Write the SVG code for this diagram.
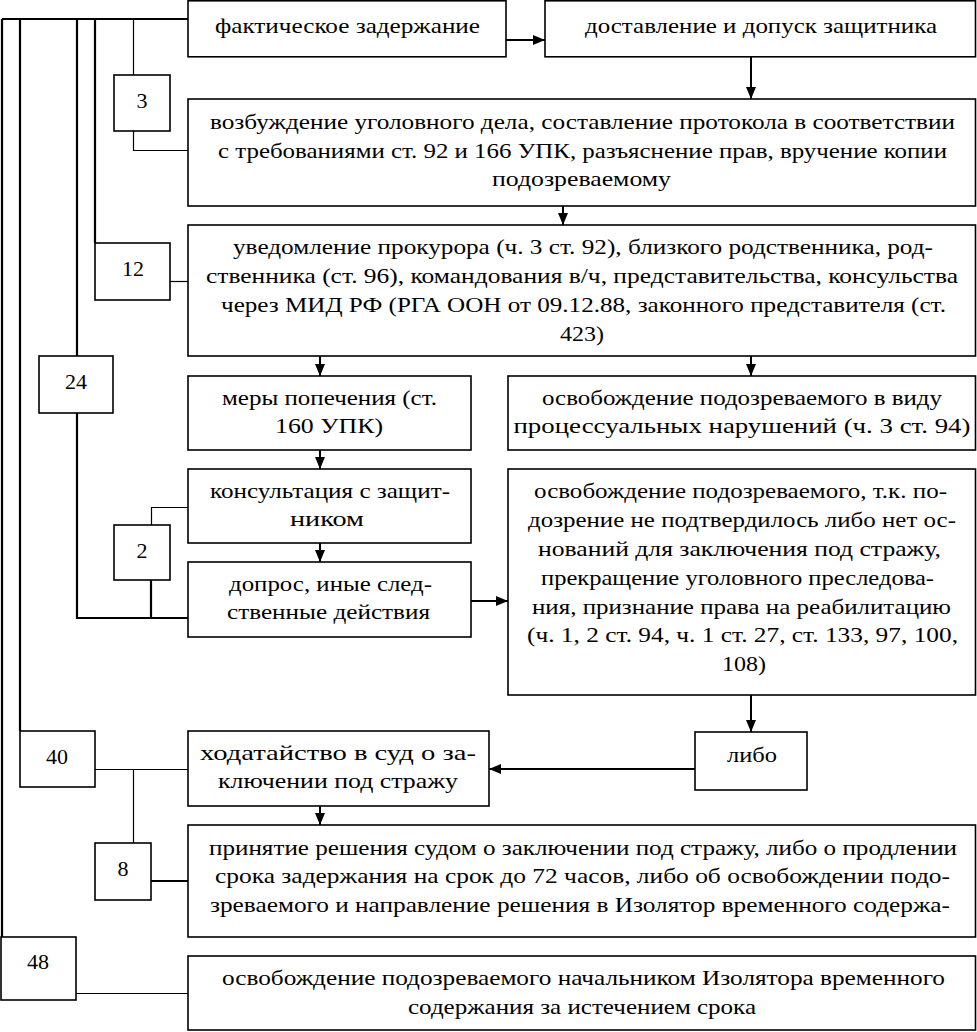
<svg xmlns="http://www.w3.org/2000/svg" width="977" height="1032" viewBox="0 0 977 1032">
<defs>
<marker id="ah" markerUnits="userSpaceOnUse" markerWidth="12" markerHeight="12" viewBox="0 0 12 12" refX="12" refY="6" orient="auto">
<path d="M0,1 L12,6 L0,11 Z" fill="#000"/>
</marker>
</defs>
<style>
.b{fill:#fff;stroke:#000;stroke-width:1.6}
.t{font-family:"Liberation Serif","Times New Roman",Tinos,"Noto Serif","DejaVu Serif",serif;font-size:22px;fill:#000;text-anchor:middle}
.th{fill:none;stroke:#000;stroke-width:2.2}
.tn{fill:none;stroke:#000;stroke-width:1.2}
.ar{fill:none;stroke:#000;stroke-width:2;marker-end:url(#ah)}
</style>
<rect width="977" height="1032" fill="#fff"/>
<g id="connectors">
<path class="th" d="M2,19 H188 M2,19 V937 M20,19 V731 M77,19 V356 M95,19 V243"/>
<path class="tn" d="M133.5,19 V75 M133.5,131 V150.5 H188"/>
<path class="tn" d="M170,281.5 H188"/>
<path class="th" d="M77,413 V618 H188"/>
<path class="tn" d="M188,507.5 H151.5 V525"/>
<path class="th" d="M151,580 V618"/>
<path class="tn" d="M95,769.5 H188 M133.5,769.5 V843"/>
<path class="th" d="M151,881 H188"/>
<path class="tn" d="M76,993.5 H188"/>
<path class="ar" d="M506,40 H545"/>
<path class="ar" d="M751,57 V99"/>
<path class="ar" d="M563,206 V225"/>
<path class="ar" d="M320,356 V376"/>
<path class="ar" d="M751,356 V376"/>
<path class="ar" d="M320,450 V469"/>
<path class="ar" d="M320,543 V562"/>
<path class="ar" d="M470,601 H508"/>
<path class="ar" d="M751,695 V732"/>
<path class="ar" d="M695,769 H489"/>
<path class="ar" d="M320,806 V825"/>
</g>
<g id="n-zaderzhanie"><rect class="b" x="188" y="0.8" width="318" height="56"/><text class="t" x="347.5" y="33" textLength="265" lengthAdjust="spacingAndGlyphs">фактическое задержание</text></g>
<g id="n-dostavlenie"><rect class="b" x="545" y="0.8" width="430.5" height="56"/><text class="t" x="761" y="33" textLength="352" lengthAdjust="spacingAndGlyphs">доставление и допуск защитника</text></g>
<g id="n-vozbuzhdenie"><rect class="b" x="188" y="99" width="787.5" height="107"/>
<text class="t" x="582.5" y="129" textLength="745" lengthAdjust="spacingAndGlyphs">возбуждение уголовного дела, составление протокола в соответствии</text>
<text class="t" x="582.5" y="158" textLength="729" lengthAdjust="spacingAndGlyphs">с требованиями ст. 92 и 166 УПК, разъяснение прав, вручение копии</text>
<text class="t" x="581.5" y="186" textLength="179" lengthAdjust="spacingAndGlyphs">подозреваемому</text></g>
<g id="n-uvedomlenie"><rect class="b" x="188" y="225" width="787.5" height="131"/>
<text class="t" x="583" y="254" textLength="700" lengthAdjust="spacingAndGlyphs">уведомление прокурора (ч. 3 ст. 92), близкого родственника, род-</text>
<text class="t" x="582" y="283" textLength="752" lengthAdjust="spacingAndGlyphs">ственника (ст. 96), командования в/ч, представительства, консульства</text>
<text class="t" x="583.5" y="312" textLength="725" lengthAdjust="spacingAndGlyphs">через МИД РФ (РГА ООН от 09.12.88, законного представителя (ст.</text>
<text class="t" x="582" y="341" textLength="44" lengthAdjust="spacingAndGlyphs">423)</text></g>
<g id="n-mery"><rect class="b" x="188" y="376" width="283" height="74"/>
<text class="t" x="329.5" y="405" textLength="215" lengthAdjust="spacingAndGlyphs">меры попечения (ст.</text>
<text class="t" x="329" y="433" textLength="108" lengthAdjust="spacingAndGlyphs">160 УПК)</text></g>
<g id="n-osv-narush"><rect class="b" x="508" y="376" width="467.5" height="74"/>
<text class="t" x="742" y="405" textLength="400" lengthAdjust="spacingAndGlyphs">освобождение подозреваемого в виду</text>
<text class="t" x="742" y="433" textLength="457" lengthAdjust="spacingAndGlyphs">процессуальных нарушений (ч. 3 ст. 94)</text></g>
<g id="n-konsultaciya"><rect class="b" x="188" y="469" width="283" height="74"/>
<text class="t" x="330" y="498" textLength="240" lengthAdjust="spacingAndGlyphs">консультация с защит-</text>
<text class="t" x="327" y="526" textLength="74" lengthAdjust="spacingAndGlyphs">ником</text></g>
<g id="n-dopros"><rect class="b" x="188" y="562" width="283" height="75"/>
<text class="t" x="330.5" y="591" textLength="203" lengthAdjust="spacingAndGlyphs">допрос, иные след-</text>
<text class="t" x="328.5" y="619" textLength="203" lengthAdjust="spacingAndGlyphs">ственные действия</text></g>
<g id="n-osv-tk"><rect class="b" x="508" y="469" width="467.5" height="226"/>
<text class="t" x="740.5" y="498" textLength="413" lengthAdjust="spacingAndGlyphs">освобождение подозреваемого, т.к. по-</text>
<text class="t" x="742" y="527" textLength="428" lengthAdjust="spacingAndGlyphs">дозрение не подтвердилось либо нет ос-</text>
<text class="t" x="739.5" y="556" textLength="403" lengthAdjust="spacingAndGlyphs">нований для заключения под стражу,</text>
<text class="t" x="737.5" y="585" textLength="393" lengthAdjust="spacingAndGlyphs">прекращение уголовного преследова-</text>
<text class="t" x="741.5" y="614" textLength="419" lengthAdjust="spacingAndGlyphs">ния, признание права на реабилитацию</text>
<text class="t" x="742.5" y="642" textLength="431" lengthAdjust="spacingAndGlyphs">(ч. 1, 2 ст. 94, ч. 1 ст. 27, ст. 133, 97, 100,</text>
<text class="t" x="744" y="671" textLength="44" lengthAdjust="spacingAndGlyphs">108)</text></g>
<g id="n-libo"><rect class="b" x="695" y="732" width="112" height="58"/><text class="t" x="752" y="762" textLength="50" lengthAdjust="spacingAndGlyphs">либо</text></g>
<g id="n-hodataystvo"><rect class="b" x="188" y="731" width="301" height="75"/>
<text class="t" x="338" y="760" textLength="276" lengthAdjust="spacingAndGlyphs">ходатайство в суд о за-</text>
<text class="t" x="338" y="788" textLength="240" lengthAdjust="spacingAndGlyphs">ключении под стражу</text></g>
<g id="n-prinyatie"><rect class="b" x="188" y="825" width="787.5" height="112"/>
<text class="t" x="583" y="855" textLength="748" lengthAdjust="spacingAndGlyphs">принятие решения судом о заключении под стражу, либо о продлении</text>
<text class="t" x="582.5" y="883" textLength="735" lengthAdjust="spacingAndGlyphs">срока задержания на срок до 72 часов, либо об освобождении подо-</text>
<text class="t" x="580" y="912" textLength="740" lengthAdjust="spacingAndGlyphs">зреваемого и направление решения в Изолятор временного содержа-</text></g>
<g id="n-osv-nachalnik"><rect class="b" x="188" y="956" width="787.5" height="74"/>
<text class="t" x="583.5" y="985" textLength="723" lengthAdjust="spacingAndGlyphs">освобождение подозреваемого начальником Изолятора временного</text>
<text class="t" x="582" y="1014" textLength="348" lengthAdjust="spacingAndGlyphs">содержания за истечением срока</text></g>
<g id="n-3"><rect class="b" x="114" y="75" width="56" height="56"/><text class="t" x="142" y="108">3</text></g>
<g id="n-12"><rect class="b" x="95" y="243" width="75" height="57"/><text class="t" x="133" y="276">12</text></g>
<g id="n-24"><rect class="b" x="39" y="356" width="74" height="57"/><text class="t" x="76" y="389">24</text></g>
<g id="n-2"><rect class="b" x="114" y="525" width="56" height="55"/><text class="t" x="142" y="558">2</text></g>
<g id="n-40"><rect class="b" x="20" y="731" width="75" height="56"/><text class="t" x="57" y="764">40</text></g>
<g id="n-8"><rect class="b" x="95" y="843" width="56" height="57"/><text class="t" x="123" y="876">8</text></g>
<g id="n-48"><rect class="b" x="1" y="937" width="75" height="63"/><text class="t" x="38" y="969">48</text></g>
</svg>
